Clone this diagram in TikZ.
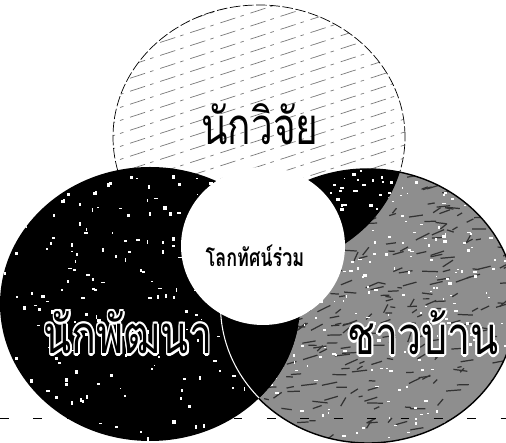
\documentclass[tikz,border=0pt]{standalone}
\usepackage{fontspec}
\usepackage{xcolor}
\usepackage{contour}
\newfontfamily\thaifont[Script=Thai]{Loma}
\contourlength{1.3pt}
\contournumber{10}
\definecolor{hatchgray}{HTML}{7A7A7A}
\definecolor{mottle}{HTML}{8E8E8E}

\begin{document}
\begin{tikzpicture}[x=0.02cm,y=0.02cm]
\tikzset{
  bigword/.style={font=\thaifont\fontsize{29}{32}\selectfont,inner sep=0pt,xscale=0.76},
  haloword/.style={font=\thaifont\fontsize{30}{33}\selectfont,inner sep=0pt,xscale=0.78},
  midword/.style={font=\thaifont\bfseries\fontsize{14}{16}\selectfont,inner sep=0pt,xscale=0.73}
}
\def\topring{(259,305) ellipse [x radius=146,y radius=132]}
\def\leftring{(150,138) ellipse [x radius=150,y radius=137]}
\def\rightring{(368,136) ellipse [x radius=148,y radius=137]}
\pgfmathsetseed{42}
\useasboundingbox (0,0) rectangle (506,442);
\fill[white] (0,0) rectangle (506,442);

% researchers circle
\fill[white] \topring;
\begin{scope}
  \clip \topring;
  \foreach \k in {-14,...,22}
    \draw[hatchgray,thin,dash pattern=on 9pt off 3pt on 2pt off 4pt] (100,\k*13+120) -- ++(18:330);
\end{scope}
\draw[black,dash pattern=on 6pt off 1.5pt] \topring;

% villagers circle
\fill[mottle] \rightring;
\begin{scope}
  \clip \rightring;
  \foreach \k in {1,...,380}
    \draw[black!80,line width=0.7pt] (220+rnd*300,rnd*280) -- ++(15+rand*25:4+rnd*12);
  \foreach \k in {1,...,300}
    \fill[white] (220+rnd*300,rnd*280) rectangle ++(1+rnd*3,1+rnd*2);
  % overlap with the top circle
  \clip \topring;
  \fill[black] (200,150) rectangle (506,300);
  \foreach \k in {1,...,40}
    \fill[white] (300+rnd*110,230+rnd*45) rectangle ++(1+rnd*4,1+rnd*2);
\end{scope}
\draw[black,thick] \rightring;

% developers circle
\fill[black] \leftring;
\begin{scope}
  \clip \leftring;
  \foreach \k in {1,...,230}
    \fill[white] (rnd*300,rnd*280) rectangle ++(1+rnd*3,1+rnd*3);
  \clip \rightring;
  \fill[black] (150,0) rectangle (320,300);
  \draw[white,line width=1.2pt] \rightring;
\end{scope}

% shared world view
\fill[white] (263,196) ellipse [x radius=82,y radius=79];

\draw[black,dash pattern=on 5pt off 14pt] (0,24) -- (506,24);

\node[bigword] (research) at (260,318) {นักวิจัย};
\node[haloword] (develop) at (128,108) {\contour{white}{\textcolor{black}{นักพัฒนา}}};
\node[haloword] (village) at (423,108) {\contour{white}{\textcolor{black}{ชาวบ้าน}}};
\node[midword] (shared) at (255,186) {โลกทัศน์ร่วม};
\end{tikzpicture}
\end{document}
